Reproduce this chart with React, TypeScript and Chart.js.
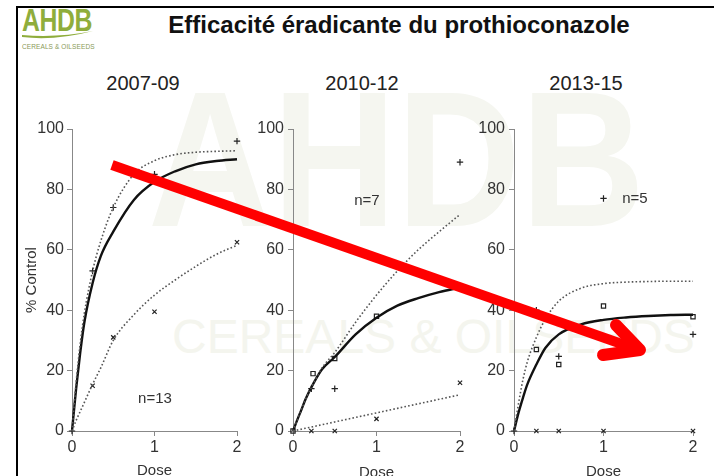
import React, { useEffect, useRef } from "react";
import { Chart, registerables } from "chart.js";

Chart.register(...registerables);

const FONT = "'Liberation Sans', Arial, Helvetica, sans-serif";

// ---------- data ----------
const TITLE = "Efficacité éradicante du prothioconazole";
const PANEL_TITLES = ["2007-09", "2010-12", "2013-15"];
const N_LABELS = ["n=13", "n=7", "n=5"];
const X_TICKS = [0, 1, 2];
const Y_TICKS = [0, 20, 40, 60, 80, 100];

// doses at which the fitted curves were read
const DOSES = [0, 0.05, 0.1, 0.15, 0.25, 0.35, 0.5, 0.75, 1, 1.25, 1.5, 1.75, 2];

// 2007-09
const P1_SOLID = [0, 14, 26, 36, 49, 58, 66, 76.5, 82.5, 86, 88.3, 89.4, 90];
const P1_UPPER = [0, 16, 29, 39, 53, 63, 74, 85, 89.5, 91.5, 92.3, 92.6, 92.8];
const P1_LOWER = [0, 3.5, 6.5, 9.5, 15.5, 21, 30, 38.5, 45, 50, 54.5, 58.5, 61.5];
const P1_PLUS_X = [0, 0.25, 0.5, 1, 2];
const P1_PLUS_Y = [0, 53, 74, 85, 96];
const P1_CROSS_X = [0.25, 0.5, 1, 2];
const P1_CROSS_Y = [15, 31, 39.5, 62.5];

// 2010-12
const P2_SOLID = [0, 3.6, 7, 10.5, 16, 20.5, 24.5, 32, 37.5, 41.5, 44, 46, 47.5];
const P2_UPPER = [0, 3.6, 7, 10.5, 16, 21, 26, 36, 45, 53, 60, 66, 71.7];
const P2_LOWER = [0, 0.3, 0.6, 0.9, 1.5, 2.1, 3, 4.5, 6, 7.5, 9, 10.5, 12];
const P2_PLUS_X = [0.22, 0.5, 2];
const P2_PLUS_Y = [14, 14, 89];
const P2_SQUARE_X = [0, 0.24, 0.5, 1];
const P2_SQUARE_Y = [0, 19, 24, 38];
const P2_CROSS_X = [0.22, 0.5, 1, 2];
const P2_CROSS_Y = [0, 0, 4, 16];

// 2013-15
const P3_SOLID = [0, 6, 11, 15.5, 22, 27.5, 32, 35.3, 36.8, 37.6, 38.1, 38.4, 38.5];
const P3_UPPER = [0, 9, 17, 23, 31, 37, 43, 47.3, 48.8, 49.3, 49.5, 49.6, 49.6];
const P3_PLUS_X = [0, 0.25, 0.5, 1, 2];
const P3_PLUS_Y = [0, 40, 24.7, 77, 32];
const P3_SQUARE_X = [0.25, 0.5, 1, 2];
const P3_SQUARE_Y = [27, 22, 41.4, 37.8];
const P3_CROSS_X = [0.25, 0.5, 1, 2];
const P3_CROSS_Y = [0, 0, 0, 0];

// ---------- helpers ----------
const pts = (xs: number[], ys: number[]) => xs.map((x, i) => ({ x, y: ys[i] }));

const solidLine = (ys: number[]) => ({
  data: pts(DOSES, ys),
  showLine: true,
  borderColor: "#111",
  borderWidth: 2.4,
  pointRadius: 0,
  cubicInterpolationMode: "monotone",
  clip: false,
});
const dottedLine = (ys: number[]) => ({
  data: pts(DOSES, ys),
  showLine: true,
  borderColor: "#555",
  borderWidth: 1.6,
  borderDash: [1.6, 2.2],
  pointRadius: 0,
  cubicInterpolationMode: "monotone",
  clip: false,
});
const markers = (xs: number[], ys: number[], style: string, r = 3.2) => ({
  data: pts(xs, ys),
  showLine: false,
  pointStyle: style,
  pointRadius: r,
  pointBorderColor: "#222",
  pointBackgroundColor: "rgba(0,0,0,0)",
  pointBorderWidth: 1.2,
  clip: false,
});

type Spec = {
  datasets: any[];
  yTitle: boolean;
  yWidth: number;
  padRight: number;
  yPad: number;
  xTitlePad: number;
};

function makeChart(canvas: HTMLCanvasElement, spec: Spec) {
  return new Chart(canvas, {
    type: "scatter",
    data: { datasets: spec.datasets },
    options: {
      animation: false,
      responsive: false,
      maintainAspectRatio: false,
      events: [],
      layout: { padding: { left: 0, right: spec.padRight, top: 29, bottom: 0 } },
      plugins: { legend: { display: false }, tooltip: { enabled: false } },
      scales: {
        x: {
          type: "linear",
          min: 0,
          max: 2,
          afterBuildTicks: (s: any) => {
            s.ticks = X_TICKS.map((v) => ({ value: v }));
          },
          ticks: { color: "#333", font: { size: 16, family: FONT }, padding: 2 },
          grid: { display: true, drawOnChartArea: false, drawTicks: true, tickLength: 5, color: "#888" },
          border: { display: true, color: "#888", width: 1 },
          title: {
            display: true,
            text: "Dose",
            color: "#333",
            font: { size: 15, family: FONT },
            padding: { top: 0, bottom: spec.xTitlePad },
          },
          afterFit: (s: any) => {
            s.height = 49;
          },
        },
        y: {
          type: "linear",
          min: 0,
          max: 100,
          afterBuildTicks: (s: any) => {
            s.ticks = Y_TICKS.map((v) => ({ value: v }));
          },
          ticks: { color: "#333", font: { size: 16, family: FONT }, padding: spec.yPad },
          grid: { display: true, drawOnChartArea: false, drawTicks: true, tickLength: 5, color: "#888" },
          border: { display: true, color: "#888", width: 1 },
          title: {
            display: spec.yTitle,
            text: "% Control",
            color: "#333",
            font: { size: 15, family: FONT },
            padding: { top: 3, bottom: 0 },
          },
          afterFit: (s: any) => {
            s.width = spec.yWidth;
          },
        },
      },
    } as any,
  });
}

const PANELS = [
  { left: 20, width: 235, yWidth: 52, padRight: 18, yPad: 3, yTitle: true, xTitlePad: 0 },
  { left: 240, width: 230, yWidth: 53, padRight: 10, yPad: 4, yTitle: false, xTitlePad: -2 },
  { left: 462, width: 252, yWidth: 52, padRight: 21, yPad: 4, yTitle: false, xTitlePad: -1 },
];

const PANEL_DATASETS = [
  [
    dottedLine(P1_UPPER),
    dottedLine(P1_LOWER),
    solidLine(P1_SOLID),
    markers(P1_PLUS_X, P1_PLUS_Y, "cross", 3.2),
    markers(P1_CROSS_X, P1_CROSS_Y, "crossRot", 3),
  ],
  [
    dottedLine(P2_UPPER),
    dottedLine(P2_LOWER),
    solidLine(P2_SOLID),
    markers(P2_PLUS_X, P2_PLUS_Y, "cross", 3.2),
    markers(P2_SQUARE_X, P2_SQUARE_Y, "rect", 3),
    markers(P2_CROSS_X, P2_CROSS_Y, "crossRot", 3),
  ],
  [
    dottedLine(P3_UPPER),
    solidLine(P3_SOLID),
    markers(P3_PLUS_X, P3_PLUS_Y, "cross", 3.2),
    markers(P3_SQUARE_X, P3_SQUARE_Y, "rect", 3),
    markers(P3_CROSS_X, P3_CROSS_Y, "crossRot", 3),
  ],
];

const PANEL_TITLE_X = [143, 362, 586];
const N_POS = [
  { x: 155, y: 398 },
  { x: 367, y: 200 },
  { x: 635, y: 198 },
];

export default function App() {
  const r1 = useRef<HTMLCanvasElement>(null);
  const r2 = useRef<HTMLCanvasElement>(null);
  const r3 = useRef<HTMLCanvasElement>(null);
  const refs = [r1, r2, r3];

  useEffect(() => {
    const charts = refs.map((r, i) =>
      makeChart(r.current as HTMLCanvasElement, {
        datasets: PANEL_DATASETS[i],
        yTitle: PANELS[i].yTitle,
        yWidth: PANELS[i].yWidth,
        padRight: PANELS[i].padRight,
        yPad: PANELS[i].yPad,
        xTitlePad: PANELS[i].xTitlePad,
      })
    );
    return () => charts.forEach((c) => c.destroy());
  }, []);

  const green = "#8fad3c";

  return (
    <div
      style={{
        position: "fixed",
        left: 0,
        top: 0,
        width: 714,
        height: 476,
        overflow: "hidden",
        background: "#fff",
        fontFamily: FONT,
      }}
    >
      {/* pale watermark */}
      <div
        style={{
          position: "absolute",
          left: 148,
          top: 62,
          fontSize: 172,
          fontWeight: 700,
          lineHeight: "172px",
          color: "#f5f6f0",
          whiteSpace: "nowrap",
          transform: "scaleY(1.12)",
          transformOrigin: "top left",
        }}
      >
        AHDB
      </div>
      <div
        style={{
          position: "absolute",
          left: 172,
          top: 313,
          fontSize: 48,
          lineHeight: "48px",
          color: "#f4f5ee",
          whiteSpace: "nowrap",
        }}
      >
        CEREALS &amp; OILSEEDS
      </div>

      {/* frame */}
      <div
        style={{
          position: "absolute",
          left: 16,
          top: 6,
          width: 720,
          height: 480,
          borderLeft: "2px solid #000",
          borderTop: "2px solid #000",
        }}
      />

      {/* logo */}
      <div
        style={{
          position: "absolute",
          left: 22,
          top: 5,
          fontSize: 31,
          fontWeight: 700,
          lineHeight: "31px",
          color: green,
          transform: "scaleX(0.8)",
          transformOrigin: "top left",
          letterSpacing: -0.5,
        }}
      >
        AHDB
      </div>
      <svg style={{ position: "absolute", left: 0, top: 0 }} width={120} height={60}>
        <path d="M22 37 Q55 41 93 31 Q58 38 22 35 Z" fill={green} />
      </svg>
      <div
        style={{
          position: "absolute",
          left: 22,
          top: 43,
          fontSize: 6.5,
          lineHeight: "8px",
          color: "#8a9a58",
          whiteSpace: "nowrap",
          letterSpacing: 0.1,
        }}
      >
        CEREALS &amp; OILSEEDS
      </div>

      {/* title */}
      <div
        style={{
          position: "absolute",
          left: 0,
          width: 798,
          top: 11,
          textAlign: "center",
          fontSize: 24,
          fontWeight: 700,
          lineHeight: "28px",
          color: "#111",
          whiteSpace: "nowrap",
        }}
      >
        {TITLE}
      </div>

      {/* panel titles */}
      {PANEL_TITLES.map((t, i) => (
        <div
          key={t}
          style={{
            position: "absolute",
            left: PANEL_TITLE_X[i] - 60,
            width: 120,
            top: 70,
            textAlign: "center",
            fontSize: 20,
            lineHeight: "26px",
            color: "#222",
          }}
        >
          {t}
        </div>
      ))}

      {/* charts */}
      {PANELS.map((p, i) => (
        <canvas
          key={i}
          ref={refs[i]}
          width={p.width}
          height={380}
          style={{ position: "absolute", left: p.left, top: 100, width: p.width, height: 380 }}
        />
      ))}

      {/* n labels */}
      {N_LABELS.map((t, i) => (
        <div
          key={t}
          style={{
            position: "absolute",
            left: N_POS[i].x - 30,
            width: 60,
            top: N_POS[i].y - 9,
            textAlign: "center",
            fontSize: 15,
            lineHeight: "18px",
            color: "#333",
          }}
        >
          {t}
        </div>
      ))}

      {/* red arrow annotation */}
      <svg style={{ position: "absolute", left: 0, top: 0 }} width={714} height={476}>
        <line x1={112} y1={165} x2={636} y2={349} stroke="#ff0000" strokeWidth={10} />
        <polyline
          points="616,325 640,350 603,355"
          fill="none"
          stroke="#ff0000"
          strokeWidth={12}
          strokeLinecap="round"
          strokeLinejoin="round"
        />
      </svg>
    </div>
  );
}
